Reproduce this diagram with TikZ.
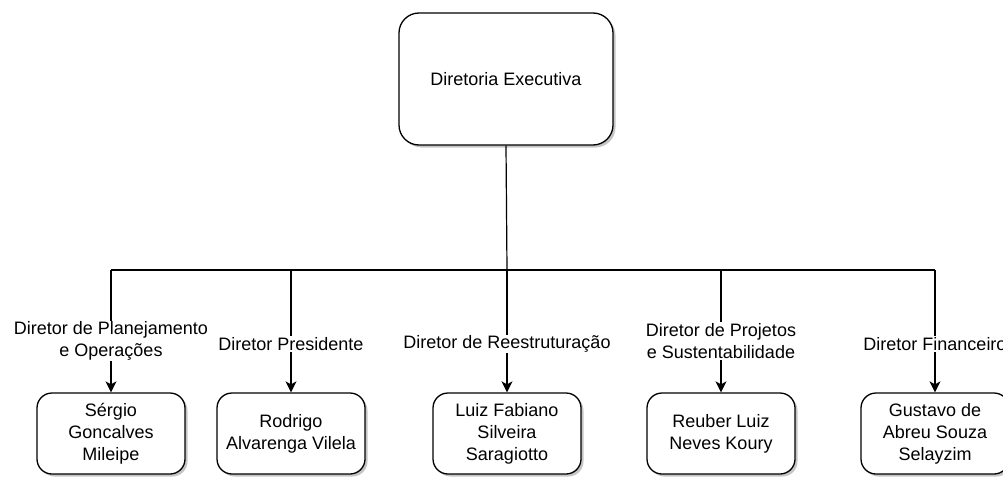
\documentclass[tikz,border=0pt]{standalone}
\usepackage{fontspec}
\setmainfont{Liberation Sans}
\usetikzlibrary{arrows.meta,shadows}
\begin{document}
\begin{tikzpicture}[x=1pt,y=-1pt,
  box/.style={draw=black,line width=1.3pt,fill=white,rounded corners=15pt,
    minimum width=148pt,minimum height=81pt,align=center,
    font=\fontsize{18}{22}\selectfont,
    drop shadow={shadow xshift=2.5pt,shadow yshift=-2.5pt,fill=black!45}},
  topbox/.style={box,rounded corners=20pt,minimum width=214pt,minimum height=132pt},
  lab/.style={fill=white,inner sep=1pt,align=center,font=\fontsize{18}{22}\selectfont},
  conn/.style={line width=1.2pt},
  arr/.style={conn,-{Stealth[length=11pt,width=11pt,inset=3pt]}}]
\useasboundingbox (0,0) rectangle (1003,479);
\node[topbox] (top) at (506,79) {Diretoria Executiva};
\node[box] (b1) at (111,433.5) {Sérgio\\Goncalves\\Mileipe};
\node[box] (b2) at (291,433.5) {Rodrigo\\Alvarenga Vilela};
\node[box] (b3) at (507,433.5) {Luiz Fabiano\\Silveira\\Saragiotto};
\node[box] (b4) at (721,433.5) {Reuber Luiz\\Neves Koury};
\node[box] (b5) at (935,433.5) {Gustavo de\\Abreu Souza\\Selayzim};
\coordinate (j) at (507,270);
\draw[conn] (top.south) -- (j);
\draw[conn] (b1.north |- j) -- (b5.north |- j);
\foreach \b in {b1,b2,b3,b4,b5}{
  \draw[arr] (\b.north |- j) -- (\b.north);
}
\node[lab] (l1) at (111,341) {Diretor de Planejamento\\e Operações};
\node[lab] (l2) at (291,344) {Diretor Presidente};
\node[lab] (l3) at (507,344) {Diretor de Reestruturação};
\node[lab] (l4) at (721,341) {Diretor de Projetos\\e Sustentabilidade};
\node[lab] (l5) at (935,344) {Diretor Financeiro};
\end{tikzpicture}
\end{document}
